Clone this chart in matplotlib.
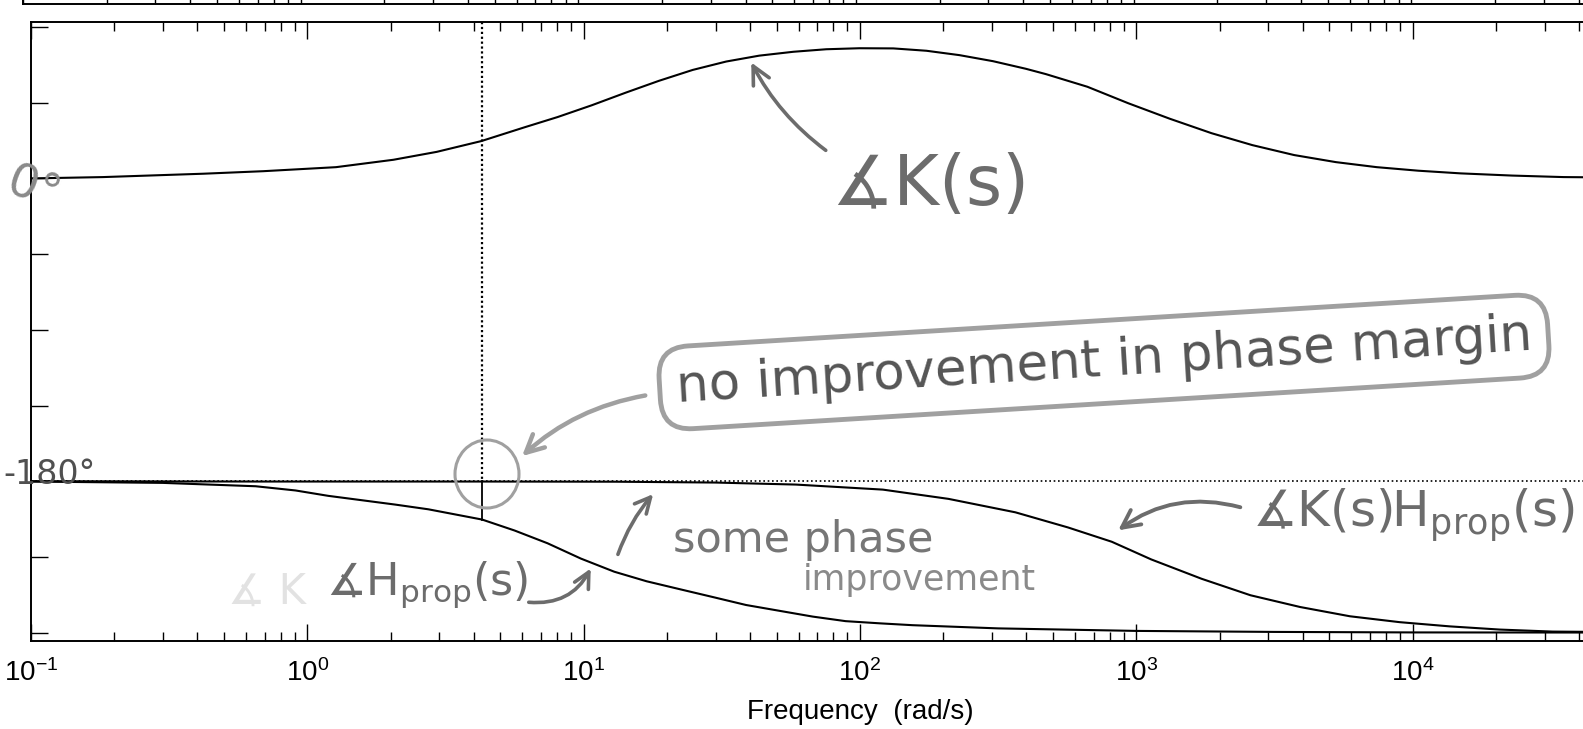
import matplotlib
matplotlib.use("Agg")
import matplotlib.pyplot as plt
from matplotlib.patches import Ellipse, FancyArrowPatch
from matplotlib.ticker import LogLocator, NullFormatter

plt.rcParams['font.family'] = ['Liberation Sans', 'DejaVu Sans']
plt.rcParams['mathtext.fontset'] = 'custom'
plt.rcParams['mathtext.rm'] = 'Liberation Sans'
plt.rcParams['mathtext.it'] = 'Liberation Sans:italic'
plt.rcParams['mathtext.default'] = 'regular'
plt.rcParams['axes.unicode_minus'] = False

# ---------------- data ----------------
# phase of K(s)  (frequency in rad/s, phase in degrees)
k_freq = [0.1, 0.182, 0.42, 0.692, 1.27, 2.05, 2.94, 4.26, 6.11, 8.05, 10.7,
          14.2, 18.7, 24.8, 32.8, 43.2, 57.4, 75.5, 99.5, 132, 174, 229, 303,
          398, 471, 665, 935, 1321, 1871, 2630, 3724, 5272, 7413, 10470,
          14930, 22910, 35160, 100000]
k_phase = [0.0, 0.8, 2.8, 4.3, 6.7, 11.1, 15.8, 22.2, 30.4, 36.5, 43.5,
           51.0, 58.0, 64.5, 69.5, 73.0, 75.3, 76.8, 77.4, 77.3, 75.9, 73.3,
           69.7, 65.2, 62.0, 54.5, 44.7, 35.5, 26.9, 19.8, 13.9, 9.7, 6.7,
           4.6, 3.0, 1.7, 0.8, 0.2]
# phase of H_prop(s)
h_freq = [0.1, 0.3, 0.65, 0.906, 1.19, 2.08, 2.74, 4.29, 5.62, 7.40, 9.77,
          12.9, 16.9, 22.4, 29.4, 38.7, 51.3, 67.5, 88.7, 118, 155, 316,
          1000, 3162, 10000, 100000]
h_phase = [-180.2, -181.0, -183.0, -185.5, -188.7, -193.9, -196.7, -202.8,
           -209.3, -216.9, -226.0, -233.8, -239.5, -244.3, -248.9, -253.6,
           -257.1, -260.5, -263.2, -264.5, -265.6, -267.5, -269.0, -269.6,
           -269.9, -270.0]
# phase of K(s)H_prop(s)
kh_freq = [0.1, 0.65, 4.3, 13.1, 30.0, 58.6, 121, 209, 365, 566, 815, 1132,
           1722, 2588, 3917, 5929, 8974, 13610, 20650, 32060, 100000]
kh_phase = [-180.0, -180.2, -180.2, -180.3, -180.8, -182.0, -185.0, -190.5,
            -198.5, -207.5, -216.0, -226.5, -238.0, -247.8, -254.8, -260.3,
            -263.8, -266.3, -268.2, -269.4, -270.0]
# gain crossover and phase there (margin marker)
crossover_freq = 4.3
crossover_phase = -202.8
ref_phase = -180

x_limits = [0.1, 1e5]
y_limits = [-275, 93]
x_ticks = [1e-1, 1e0, 1e1, 1e2, 1e3, 1e4, 1e5]
x_tick_labels = ['$10^{-1}$', '$10^{0}$', '$10^{1}$', '$10^{2}$', '$10^{3}$',
                 '$10^{4}$', '']
y_ticks = [90, 45, 0, -45, -90, -135, -180, -225, -270]
x_label = 'Frequency  (rad/s)'

# ---------------- figure ----------------
FW, FH = 1583, 729
fig = plt.figure(figsize=(FW / 100, FH / 100), dpi=100)


def box(x0, y0, x1, y1):
    return [x0 / FW, 1 - y1 / FH, (x1 - x0) / FW, (y1 - y0) / FH]


def f(x, y):
    return (x / FW, 1 - y / FH)


# bottom of the magnitude plot peeking in at the top
axm = fig.add_axes(box(23, -300, 1689, 4))
axm.set_xscale('log')
axm.set_xlim(*x_limits)
axm.set_ylim(0, 1)
axm.xaxis.set_major_locator(LogLocator(base=10, numticks=20))
axm.xaxis.set_minor_locator(LogLocator(base=10, subs=range(2, 10), numticks=20))
axm.tick_params(which='both', direction='in', labelbottom=False, left=False,
                labelleft=False, width=1)
axm.tick_params(which='major', length=12)
axm.tick_params(which='minor', length=6.5)
for s in axm.spines.values():
    s.set_linewidth(1.4)

ax = fig.add_axes(box(31, 22, 1689, 641))
ax.set_xscale('log')
ax.set_xlim(*x_limits)
ax.set_ylim(*y_limits)

ax.axhline(ref_phase, color='black', lw=1.2, ls=(0, (1, 1.6)), zorder=1)
ax.plot([crossover_freq, crossover_freq], [y_limits[1], ref_phase],
        color='black', lw=1.6, ls=(0, (1, 1.2)), zorder=1)
ax.plot([crossover_freq, crossover_freq], [ref_phase, crossover_phase],
        color='black', lw=1.3, zorder=2)

ax.plot(k_freq, k_phase, color='black', lw=1.5, zorder=3)
ax.plot(h_freq, h_phase, color='black', lw=1.5, zorder=3)
ax.plot(kh_freq, kh_phase, color='black', lw=1.5, zorder=3)

ax.set_yticks(y_ticks)
ax.set_xticks(x_ticks, labels=x_tick_labels)
ax.xaxis.set_minor_locator(LogLocator(base=10, subs=range(2, 10), numticks=20))
ax.xaxis.set_minor_formatter(NullFormatter())
ax.tick_params(which='both', direction='in', top=True, right=True,
               labelleft=False, width=1, labelsize=20, pad=13)
ax.tick_params(axis='x', which='major', length=12)
ax.tick_params(axis='x', which='minor', length=6.5)
ax.tick_params(axis='y', which='major', length=12)
for s in ax.spines.values():
    s.set_linewidth(1.4)
ax.set_xlabel(x_label, fontsize=20, labelpad=9)

# ---------------- pencil annotations ----------------
hand = ['DejaVu Sans']
pencil = '#6c6c6c'
light = '#a0a0a0'


def arrow(p0, p1, color, lw, rad, ms=30):
    fig.add_artist(FancyArrowPatch(f(*p0), f(*p1), transform=fig.transFigure,
                                   arrowstyle='->', mutation_scale=ms, lw=lw,
                                   color=color,
                                   connectionstyle='arc3,rad=%s' % rad))


fig.text(*f(930, 186), '\u2221K(s)', fontsize=50, color=pencil,
         ha='center', va='center', family=hand)
arrow((828, 152), (750, 60), pencil, 2.6, -0.12, 32)

fig.text(*f(1104, 362), 'no improvement in phase margin', fontsize=37,
         color='#555555', ha='center', va='center', rotation=3.5,
         rotation_mode='anchor', family=hand,
         bbox=dict(boxstyle='round,pad=0.32,rounding_size=0.6', fc='none',
                   ec=light, lw=3.5))
arrow((648, 395), (520, 458), light, 3.2, 0.15, 32)
fig.add_artist(Ellipse(f(487, 474), 64 / FW, 68 / FH,
                       transform=fig.transFigure, fill=False,
                       ec=light, lw=2.2))

fig.text(*f(1, 190), '0\u00b0', fontsize=34, color='#8a8a8a',
         ha='left', va='center', rotation=-20, family=hand)
fig.text(*f(3, 474), '-180\u00b0', fontsize=24, color='#505050',
         ha='left', va='center', family=hand)

fig.text(*f(228, 592), '\u2221 K', fontsize=30, color='#e2e2e2',
         ha='left', va='center', family=hand)
fig.text(*f(326, 585), '\u2221H$_{\\mathregular{prop}}$(s)', fontsize=32,
         color=pencil, ha='left', va='center', family=hand)
arrow((526, 602), (592, 566), pencil, 2.6, 0.35, 28)

fig.text(*f(673, 540), 'some phase', fontsize=31, color='#767676',
         ha='left', va='center', family=hand)
fig.text(*f(803, 580), 'improvement', fontsize=25, color='#8a8a8a',
         ha='left', va='center', family=hand)
arrow((617, 557), (655, 492), pencil, 2.6, -0.1, 28)

fig.text(*f(1252, 515), '\u2221K(s)H$_{\\mathregular{prop}}$(s)', fontsize=36,
         color=pencil, ha='left', va='center', family=hand)
arrow((1243, 508), (1116, 532), pencil, 2.8, 0.25, 32)

fig.savefig('out.png', dpi=100)
